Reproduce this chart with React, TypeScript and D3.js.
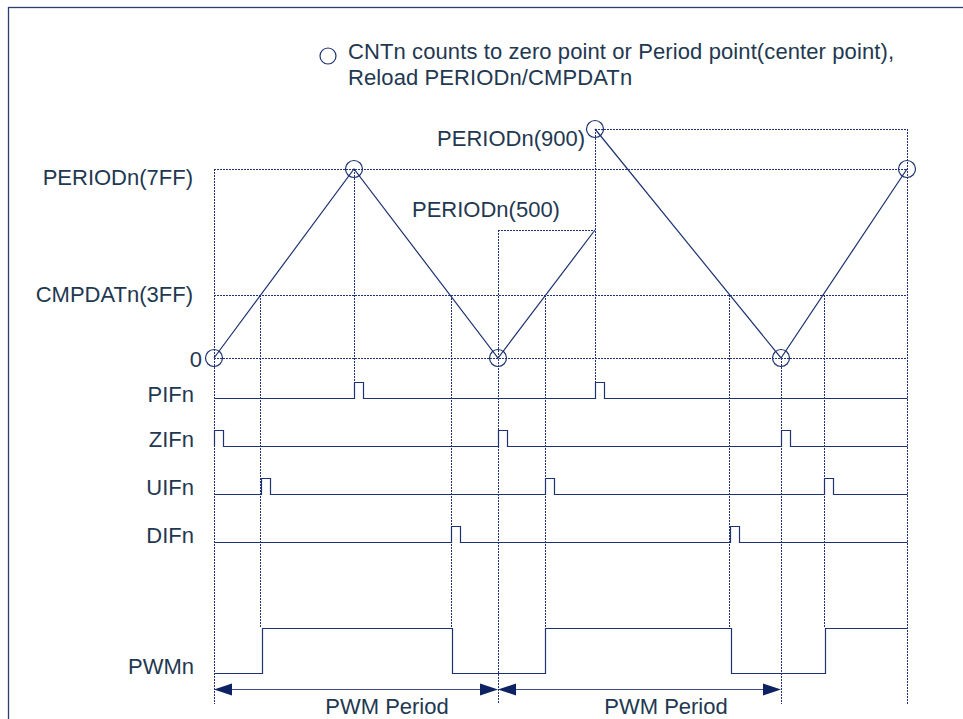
import React from "react";
import * as d3 from "d3";

// ---- data (counter levels in hex units, time in arbitrary ticks) ----
const levelValues = [0x000, 0x3ff, 0x500, 0x7ff, 0x900];
const levelLabels = ["0", "CMPDATn(3FF)", "PERIODn(500)", "PERIODn(7FF)", "PERIODn(900)"];

const counterSeg1T = [0, 140, 284, 381];
const counterSeg1V = [0x000, 0x7ff, 0x000, 0x500];
const counterSeg2T = [381, 567, 693];
const counterSeg2V = [0x900, 0x000, 0x7ff];

const reloadT = [0, 140, 284, 381, 567, 693];
const reloadV = [0x000, 0x7ff, 0x000, 0x900, 0x000, 0x7ff];

const signalNames = ["PIFn", "ZIFn", "UIFn", "DIFn"];
const pifPulses = [140, 381];
const zifPulses = [0, 284, 567];
const uifPulses = [47, 331, 610];
const difPulses = [237, 516];
const pulseWidth = 9;

const pwmName = "PWMn";
const pwmEdges = [48, 238, 331, 517, 611];

const periodBounds = [0, 284, 567];
const periodLabel = "PWM Period";

const vGuideT = [0, 46, 140, 237, 284, 331, 381, 515, 567, 610, 693];
const vGuideFrom = [0x7ff, 0x3ff, 0x7ff, 0x3ff, 0x500, 0x3ff, 0x900, 0x3ff, 0x000, 0x3ff, 0x900];
const vGuideTo = ["bottom", "pwm", "pif", "pwm", "bottom", "pwm", "pif", "pwm", "bottom", "pwm", "bottom"];

const hGuideV = [0x7ff, 0x3ff, 0x000, 0x500, 0x900];
const hGuideStart = [0, 0, 0, 284, 381];
const hGuideEnd = [693, 693, 693, 381, 693];

const legendLines = [
  "CNTn counts to zero point or Period point(center point),",
  "Reload PERIODn/CMPDATn",
];

// ---- styles ----
const LINE = "#1d3270";
const GUIDE = "#1f3478";
const TEXT = "#223850";
const ARROW = "#0c2262";
const FONT = "'Liberation Sans', Arial, sans-serif";
const FS = 22;

const snap = (v: number) => Math.round(v) + 0.5;

export default function App() {
  const W = 963;
  const H = 719;

  const x = d3.scaleLinear().domain([0, 693]).range([214, 907]);
  const y = d3
    .scaleLinear()
    .domain(levelValues)
    .range([358, 295, 230, 169, 129]);

  const rowY = d3.scalePoint<string>().domain(signalNames).range([398, 542]);
  const pulseH = 16;
  const pwmLow = 673;
  const pwmHigh = 628;
  const bottomY = 704;
  const arrowY = 689;

  const toY = (k: string) =>
    k === "bottom" ? bottomY : k === "pwm" ? pwmHigh : (rowY("PIFn") as number) - pulseH;

  const line = d3
    .line<[number, number]>()
    .x((d) => x(d[0]))
    .y((d) => y(d[1]));

  const seg1 = line(counterSeg1T.map((t, i) => [t, counterSeg1V[i]]));
  const seg2 = line(counterSeg2T.map((t, i) => [t, counterSeg2V[i]]));

  const pulsesByRow: Record<string, number[]> = {
    PIFn: pifPulses,
    ZIFn: zifPulses,
    UIFn: uifPulses,
    DIFn: difPulses,
  };

  const sigLine = d3
    .line<[number, number]>()
    .x((d) => snap(x(d[0])))
    .y((d) => snap(d[1]));

  const pulsePath = (name: string) => {
    const base = rowY(name) as number;
    const pts: [number, number][] = [[0, base]];
    pulsesByRow[name].forEach((t) => {
      pts.push([t, base], [t, base - pulseH], [t + pulseWidth, base - pulseH], [t + pulseWidth, base]);
    });
    pts.push([693, base]);
    return sigLine(pts);
  };

  const pwmPts: [number, number][] = [[0, pwmLow]];
  let lvl = pwmLow;
  pwmEdges.forEach((t) => {
    pwmPts.push([t, lvl]);
    lvl = lvl === pwmLow ? pwmHigh : pwmLow;
    pwmPts.push([t, lvl]);
  });
  pwmPts.push([693, lvl]);
  const pwmPath = sigLine(pwmPts);

  const levelLabelPos: Record<string, { x: number; dy: number; anchor: string }> = {
    "0": { x: 202, dy: 9, anchor: "end" },
    "CMPDATn(3FF)": { x: 193, dy: 7, anchor: "end" },
    "PERIODn(500)": { x: 412, dy: -13, anchor: "start" },
    "PERIODn(7FF)": { x: 193, dy: 16, anchor: "end" },
    "PERIODn(900)": { x: 585, dy: 17, anchor: "end" },
  };

  const periodTextCenter = [387, 666];

  return (
    <svg
      width={W}
      height={H}
      style={{ position: "absolute", left: 0, top: 0, background: "#fff" }}
      fontFamily={FONT}
    >
      {/* frame */}
      <rect x={8.5} y={7.5} width={1200} height={1200} fill="none" stroke="#2b3f6e" strokeWidth={1.3} />

      {/* legend */}
      <circle cx={328} cy={56} r={8} fill="none" stroke={LINE} strokeWidth={1.2} />
      {legendLines.map((s, i) => (
        <text key={i} x={348} y={59 + i * 25.5} fontSize={FS} fill={TEXT} letterSpacing={0.1}>
          {s}
        </text>
      ))}

      {/* horizontal guides */}
      {hGuideV.map((v, i) => (
        <line
          key={"h" + i}
          x1={x(hGuideStart[i])}
          x2={x(hGuideEnd[i])}
          y1={snap(y(v))}
          y2={snap(y(v))}
          stroke={GUIDE}
          strokeWidth={1}
          strokeDasharray="2,1"
        />
      ))}

      {/* vertical guides */}
      {vGuideT.map((t, i) => (
        <line
          key={"v" + i}
          x1={snap(x(t))}
          x2={snap(x(t))}
          y1={y(vGuideFrom[i])}
          y2={toY(vGuideTo[i])}
          stroke={GUIDE}
          strokeWidth={1}
          strokeDasharray="2,1"
        />
      ))}

      {/* counter */}
      <path d={seg1 || ""} fill="none" stroke={LINE} strokeWidth={1.2} />
      <path d={seg2 || ""} fill="none" stroke={LINE} strokeWidth={1.2} />
      {reloadT.map((t, i) => (
        <circle key={"c" + i} cx={x(t)} cy={y(reloadV[i])} r={8.5} fill="none" stroke={LINE} strokeWidth={1.2} />
      ))}

      {/* level labels */}
      {levelValues.map((v, i) => {
        const p = levelLabelPos[levelLabels[i]];
        return (
          <text key={"l" + i} x={p.x} y={y(v) + p.dy} textAnchor={p.anchor as any} fontSize={FS} fill={TEXT}>
            {levelLabels[i]}
          </text>
        );
      })}

      {/* interrupt flags */}
      {signalNames.map((n) => (
        <g key={n}>
          <path d={pulsePath(n) || ""} fill="none" stroke={LINE} strokeWidth={1.2} />
          <text x={194} y={(rowY(n) as number) + (n === "PIFn" ? 4 : 1)} textAnchor="end" fontSize={FS} fill={TEXT}>
            {n}
          </text>
        </g>
      ))}

      {/* PWM */}
      <path d={pwmPath || ""} fill="none" stroke={LINE} strokeWidth={1.2} />
      <text x={194} y={pwmLow + 1} textAnchor="end" fontSize={FS} fill={TEXT}>
        {pwmName}
      </text>

      {/* period arrows */}
      {periodBounds.slice(0, -1).map((t0, i) => {
        const a = x(t0);
        const b = x(periodBounds[i + 1]);
        return (
          <g key={"p" + i}>
            <line x1={a + 2} x2={b - 2} y1={snap(arrowY)} y2={snap(arrowY)} stroke="#3b5080" strokeWidth={1.2} />
            <path d={`M${a},${arrowY + 0.5} L${a + 18},${arrowY - 5.5} L${a + 18},${arrowY + 6.5} Z`} fill={ARROW} />
            <path d={`M${b},${arrowY + 0.5} L${b - 18},${arrowY - 5.5} L${b - 18},${arrowY + 6.5} Z`} fill={ARROW} />
            <text x={periodTextCenter[i]} y={714} textAnchor="middle" fontSize={FS} fill={TEXT}>
              {periodLabel}
            </text>
          </g>
        );
      })}
    </svg>
  );
}
